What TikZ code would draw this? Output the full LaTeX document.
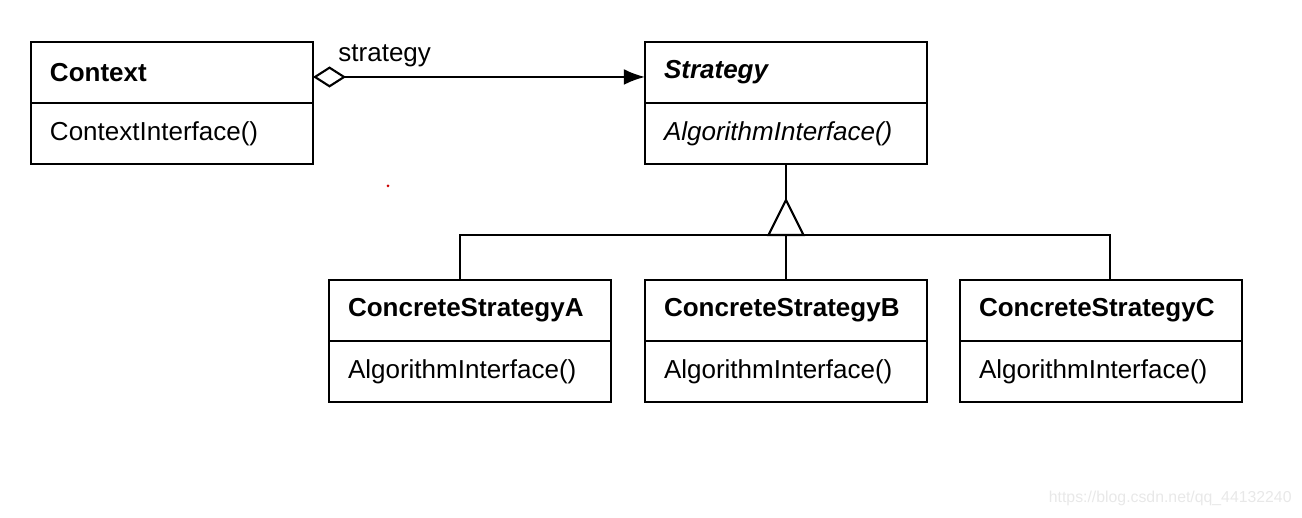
\documentclass[tikz,border=0pt]{standalone}
\usepackage{fontspec}
\setmainfont{Liberation Sans}
\usetikzlibrary{arrows.meta}
\usetikzlibrary{calc}
\usetikzlibrary{positioning}

\tikzset{
  classname/.style={draw, line width=0.6pt, outer sep=0pt, anchor=north west,
    minimum width=2.82cm, minimum height=0.61cm, inner xsep=0.19cm, inner ysep=0pt,
    text width=2.44cm, align=left, font=\fontsize{7.4}{9}\selectfont\bfseries},
  classop/.style={classname, font=\fontsize{7.4}{9}\selectfont},
  conn/.style={line width=0.6pt},
}

\begin{document}
\begin{tikzpicture}
        \useasboundingbox (0,0) rectangle (13.02,5.18);

        \node[classname] (ctx) at (0.31, 4.76) {Context};
        \node[classop, below=0pt of ctx] (ctxop) {ContextInterface()};

        \node[classname, font=\fontsize{7.4}{9}\selectfont\bfseries\itshape] (strat) at (6.45, 4.76) {Strategy};
        \node[classop, font=\fontsize{7.4}{9}\selectfont\itshape, below=0pt of strat] (stratop) {AlgorithmInterface()};

        \foreach \c/\x in {A/3.29, B/6.45, C/9.60} {
            \node[classname] (cs\c) at (\x, 2.38) {ConcreteStrategy\c};
            \node[classop, below=0pt of cs\c] (csop\c) {AlgorithmInterface()};
        }

        % aggregation
        \draw[conn, {Diamond[open,length=9.4pt,width=6pt]}-{Latex[length=6pt,width=4.5pt]}]
            ([yshift=-0.45mm]ctx.east) -- ([yshift=-0.45mm]strat.west);
        \node[anchor=west, font=\fontsize{7.4}{9}\selectfont] (role) at ([xshift=1.3mm, yshift=1.65mm]ctx.east) {strategy};

        % inheritance
        \coordinate (apex) at ([yshift=-3.6mm]stratop.south);
        \coordinate (bar) at ([yshift=-7.1mm]stratop.south);
        \draw[conn] (stratop.south) -- (apex);
        \draw[conn, line join=miter] (apex) -- ++(-1.75mm, -3.5mm) -- ++(3.5mm, 0) -- cycle;
        \draw[conn] ([xshift=-1mm]csA.north) |- (bar) -| ([xshift=0.9mm]csC.north);
        \draw[conn] (bar) -- (csB.north);

        \fill[red!80!black] (3.88, 3.32) circle (0.015);
        \node[anchor=east, text=black!9, font=\fontsize{4.5}{5}\selectfont] (mark) at (13.04, 0.2) {https://blog.csdn.net/qq\_44132240};
    \end{tikzpicture}
\end{document}
